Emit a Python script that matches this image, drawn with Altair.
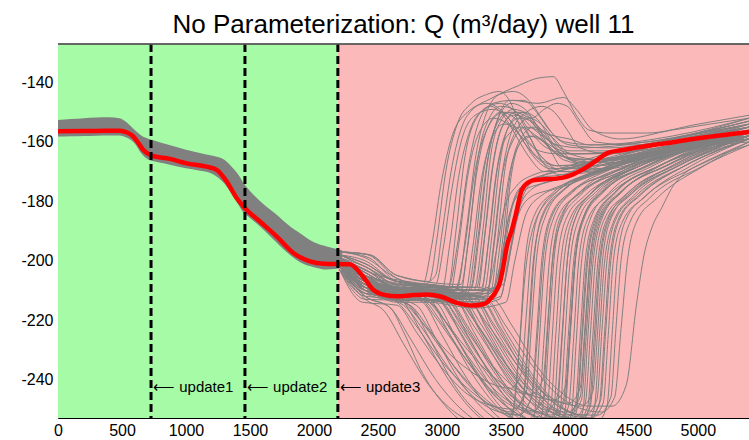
import altair as alt
import pandas as pd

TITLE = "No Parameterization: Q (m³/day) well 11"
X_TICKS = [0, 500, 1000, 1500, 2000, 2500, 3000, 3500, 4000, 4500, 5000]
Y_TICKS = [-240, -220, -200, -180, -160, -140]
X_DOMAIN = [0, 5400]
Y_DOMAIN = [-253, -127]

REGION_START = [0, 2187]
REGION_END = [2187, 5400]
REGION_COLOR = ["#a6fba6", "#fcb9b9"]

UPDATE_X = [727, 1461, 2187]
UPDATE_LABEL = ["⟵ update1", "⟵ update2", "⟵ update3"]
UPDATE_LABEL_Y = [-242.7, -242.7, -242.7]

# ensemble envelope before the members diverge
BAND_X = [0, 100, 200, 300, 400, 480, 540, 600, 650, 700, 750, 850, 1000, 1100, 1200,
          1300, 1350, 1400, 1450, 1500, 1600, 1700, 1800, 1900, 2000, 2100, 2220]
BAND_TOP = [-152.6, -152.3, -152.0, -151.8, -151.7, -152.0, -153.5, -156.0, -157.8, -158.8,
            -159.5, -160.8, -162.6, -163.6, -164.6, -166.0, -168.0, -170.5, -173.8, -176.5,
            -180.7, -184.2, -188.0, -191.0, -193.8, -195.2, -196.5]
BAND_BOTTOM = [-158.2, -158.1, -158.0, -157.9, -157.8, -157.8, -158.6, -160.5, -163.8, -165.8,
               -166.5, -167.4, -168.9, -169.6, -170.6, -174.0, -177.0, -180.5, -183.8, -185.6,
               -189.3, -193.5, -197.6, -200.7, -202.2, -203.0, -202.5]

# red (mean) curve
MEAN_X = [0, 300, 480, 540, 590, 630, 667, 732, 875, 1005, 1160, 1240, 1318, 1396, 1461,
          1578, 1708, 1839, 1969, 2080, 2280, 2383, 2461, 2550, 2648, 2780, 2883, 2984, 3117,
          3242, 3330, 3375, 3420, 3453, 3480, 3508, 3547, 3580, 3625, 3680, 3727, 3800, 3937,
          4020, 4094, 4200, 4297, 4400, 4508, 4650, 4820, 4950, 5078, 5250, 5400]
MEAN_Y = [-156.4, -156.3, -156.2, -156.8, -158.2, -160.5, -162.7, -164.6, -165.7, -167.2,
          -168.3, -169.4, -173.3, -178.9, -182.3, -186.8, -191.8, -197.4, -200.2, -201.0,
          -201.2, -205.3, -209.7, -211.5, -212.0, -211.6, -211.4, -212.0, -214.2, -215.1,
          -214.6, -213.1, -210.5, -207.4, -202.0, -195.2, -189.6, -184.0, -176.1, -173.5,
          -172.8, -172.6, -172.1, -171.0, -169.4, -166.5, -163.7, -162.8, -162.0, -161.0,
          -160.0, -159.1, -158.3, -157.4, -156.6]

# gray ensemble members after they spread out, [x, y] pairs
HUMP_LINES = [
    [[2200, -197], [2420, -198], [2650, -206], [2850, -208], [2950, -205], [3000, -191], [3080, -168], [3200, -151], [3400, -145], [3600, -141], [3750, -138.5], [3870, -138], [3950, -143], [4050, -151], [4150, -156], [4300, -157], [4600, -157], [5000, -154], [5400, -151]],
    [[2200, -198], [2400, -202], [2650, -208], [3050, -209], [3120, -195], [3200, -170], [3300, -152], [3400, -147], [3550, -146], [3750, -147], [3950, -145], [4050, -149], [4180, -156], [4400, -159], [4800, -156], [5400, -152]],
    [[2200, -199], [2400, -204], [2650, -209], [3100, -210], [3180, -195], [3250, -172], [3350, -156], [3480, -150], [3600, -151], [3700, -155], [3850, -160], [4000, -163], [4300, -163], [4800, -159], [5400, -154]],
    [[2200, -200], [2400, -206], [2650, -210], [3200, -211], [3260, -195], [3320, -172], [3400, -157], [3520, -150], [3620, -150], [3720, -154], [3800, -160], [3950, -165], [4200, -166], [4700, -161], [5400, -155]],
    [[2200, -197], [2430, -199], [2650, -207], [3250, -210], [3320, -190], [3380, -165], [3460, -153], [3560, -149], [3680, -151], [3780, -157], [3900, -161], [4100, -162], [4600, -160], [5400, -153]],
    [[2200, -201], [2400, -207], [2650, -211], [3300, -212], [3360, -195], [3420, -172], [3500, -157], [3600, -152], [3700, -153], [3800, -157], [3900, -163], [4050, -166], [4400, -165], [5000, -160], [5400, -157]],
    [[2200, -199], [2400, -203], [2650, -209], [3330, -210], [3390, -192], [3450, -168], [3530, -154], [3640, -150], [3760, -153], [3860, -160], [4000, -166], [4300, -167], [4900, -162], [5400, -158]],
    [[2200, -198], [2400, -200], [2650, -207], [3230, -209], [3290, -192], [3360, -166], [3440, -152], [3540, -147], [3650, -149], [3750, -155], [3850, -163], [3950, -169], [4200, -169], [4700, -164], [5400, -157]],
    [[2200, -201], [2400, -208], [2650, -212], [3380, -211], [3430, -195], [3490, -170], [3570, -157], [3680, -152], [3800, -155], [3920, -162], [4060, -167], [4400, -166], [5000, -160], [5400, -156]],
    [[2200, -197], [2440, -198], [2650, -205], [3150, -208], [3210, -192], [3280, -166], [3370, -152], [3460, -148], [3560, -149], [3660, -156], [3760, -164], [3900, -168], [4200, -168], [4800, -162], [5400, -155]],
    [[2200, -200], [2400, -206], [2650, -211], [3420, -212], [3470, -195], [3520, -175], [3600, -160], [3720, -155], [3850, -158], [4000, -164], [4250, -166], [4800, -162], [5400, -157]],
    [[2200, -198], [2400, -201], [2650, -207], [3050, -209], [3110, -190], [3180, -165], [3270, -152], [3380, -148], [3480, -151], [3580, -158], [3680, -165], [3800, -170], [4100, -170], [4700, -164], [5400, -156]],
    [[2200, -202], [2400, -209], [2650, -213], [3350, -213], [3400, -196], [3460, -174], [3540, -161], [3660, -155], [3780, -157], [3900, -163], [4100, -167], [4500, -165], [5400, -157]],
    [[2200, -199], [2400, -204], [2650, -209], [3280, -210], [3340, -190], [3400, -168], [3480, -154], [3580, -150], [3700, -152], [3800, -149], [3900, -147], [3980, -148], [4080, -154], [4200, -160], [4500, -161], [5000, -157], [5400, -153]],
    [[2200, -200], [2400, -205], [2650, -210], [3440, -210], [3490, -193], [3540, -172], [3620, -160], [3720, -158], [3820, -161], [3950, -165], [4200, -166], [4800, -161], [5400, -155]],
    [[2200, -197], [2400, -199], [2650, -206], [2850, -208], [2920, -195], [2990, -175], [3080, -158], [3200, -150], [3350, -147], [3480, -150], [3600, -157], [3700, -164], [3850, -169], [4100, -168], [4600, -162], [5400, -154]],
    [[2200, -198], [2400, -201], [2650, -207], [2950, -208], [3010, -196], [3070, -178], [3150, -160], [3260, -151], [3400, -149], [3520, -152], [3640, -160], [3760, -166], [3900, -169], [4200, -168], [4800, -162], [5400, -155]],
    [[2200, -200], [2400, -205], [2650, -210], [3000, -210], [3060, -195], [3130, -172], [3220, -156], [3330, -149], [3450, -147], [3580, -150], [3700, -157], [3820, -162], [4000, -164], [4400, -163], [5000, -158], [5400, -154]],
    [[2200, -199], [2400, -203], [2650, -208], [3120, -209], [3190, -190], [3260, -166], [3350, -150], [3450, -144], [3560, -143], [3680, -146], [3780, -152], [3880, -158], [4000, -161], [4300, -162], [4900, -158], [5400, -153]],
    [[2200, -201], [2400, -207], [2650, -211], [3180, -211], [3240, -196], [3300, -175], [3380, -160], [3480, -154], [3580, -155], [3680, -160], [3800, -166], [3950, -170], [4250, -169], [4800, -163], [5400, -157]],
    [[2200, -198], [2400, -202], [2650, -207], [3270, -209], [3330, -193], [3390, -170], [3460, -156], [3560, -151], [3660, -152], [3760, -156], [3880, -158], [4000, -159], [4150, -161], [4600, -160], [5400, -152]],
    [[2200, -200], [2400, -205], [2650, -210], [3350, -211], [3410, -194], [3470, -171], [3550, -156], [3660, -150], [3780, -148], [3880, -150], [3980, -156], [4080, -162], [4300, -164], [4900, -160], [5400, -155]],
    [[2200, -199], [2400, -204], [2650, -209], [3400, -210], [3450, -196], [3500, -178], [3570, -164], [3680, -158], [3800, -160], [3950, -166], [4200, -168], [4700, -163], [5400, -157]],
    [[2200, -197], [2430, -198], [2650, -205], [2900, -207], [2960, -193], [3030, -170], [3120, -154], [3230, -147], [3350, -144], [3450, -143], [3540, -147], [3620, -156], [3720, -164], [3900, -168], [4300, -166], [5400, -154]],
    [[2200, -201], [2400, -206], [2650, -211], [3060, -211], [3130, -195], [3200, -172], [3290, -157], [3400, -152], [3520, -154], [3640, -159], [3760, -163], [3900, -164], [4200, -164], [4800, -160], [5400, -155]],
    [[2200, -200], [2400, -205], [2650, -210], [3220, -210], [3280, -193], [3350, -168], [3430, -153], [3530, -146], [3640, -146], [3740, -150], [3840, -156], [3960, -160], [4200, -161], [4800, -158], [5400, -152]],
    [[2200, -198], [2400, -201], [2650, -207], [3310, -209], [3370, -192], [3430, -170], [3510, -158], [3620, -155], [3740, -158], [3880, -162], [4050, -164], [4500, -163], [5400, -156]],
    [[2200, -202], [2400, -208], [2650, -212], [3140, -212], [3200, -196], [3270, -171], [3360, -155], [3460, -150], [3570, -152], [3680, -158], [3790, -167], [3920, -171], [4200, -170], [4800, -164], [5400, -158]],
]

MEANLIKE_LINES = [
    [[2200, -201], [2400, -205], [2650, -211], [2900, -211], [3200, -213], [3380, -211], [3450, -203], [3520, -186], [3600, -176], [3750, -172], [3950, -171], [4200, -166], [4500, -162], [5000, -159], [5400, -156]],
    [[2200, -200], [2400, -203], [2650, -209], [2900, -209], [3200, -211], [3420, -209], [3480, -198], [3550, -182], [3650, -174], [3800, -171], [4000, -169], [4250, -165], [4600, -161], [5400, -154]],
    [[2200, -202], [2400, -207], [2650, -212], [2900, -213], [3200, -215], [3450, -213], [3510, -203], [3580, -187], [3680, -179], [3850, -176], [4100, -172], [4400, -167], [4900, -162], [5400, -159]],
    [[2200, -199], [2400, -202], [2650, -208], [2900, -208], [3250, -210], [3480, -208], [3540, -196], [3620, -180], [3720, -173], [3900, -170], [4150, -167], [4500, -163], [5400, -155]],
    [[2200, -203], [2400, -209], [2650, -214], [2900, -214], [3250, -216], [3500, -214], [3570, -200], [3660, -184], [3780, -178], [3950, -175], [4200, -171], [4600, -165], [5400, -160]],
    [[2200, -201], [2400, -206], [2650, -210], [2900, -210], [3200, -212], [3400, -210], [3460, -200], [3530, -184], [3620, -177], [3780, -174], [3980, -172], [4250, -167], [4600, -163], [5400, -157]],
    [[2200, -202], [2400, -208], [2650, -213], [2900, -213], [3250, -214], [3460, -212], [3520, -199], [3600, -183], [3700, -176], [3870, -173], [4100, -170], [4450, -165], [5400, -157]],
    [[2200, -199], [2400, -204], [2650, -209], [2900, -209], [3200, -210], [3360, -209], [3420, -198], [3490, -182], [3580, -175], [3720, -171], [3920, -169], [4200, -165], [4600, -161], [5400, -155]],
]

DIP_LINES = [
    [[2200, -202], [2400, -210], [2650, -214], [2800, -222], [3000, -234], [3200, -243], [3400, -249], [3550, -251], [3640, -245], [3680, -225], [3720, -200], [3790, -184], [3950, -176], [4300, -169], [4900, -162], [5400, -158]],
    [[2200, -200], [2400, -207], [2700, -213], [2850, -221], [3050, -233], [3250, -243], [3450, -250], [3600, -252], [3700, -246], [3740, -225], [3780, -200], [3850, -185], [4000, -177], [4300, -171], [4900, -163], [5400, -159]],
    [[2200, -203], [2400, -211], [2750, -215], [2900, -223], [3100, -236], [3300, -246], [3500, -252], [3650, -254], [3760, -248], [3800, -225], [3840, -200], [3910, -185], [4050, -178], [4400, -170], [5000, -162], [5400, -159]],
    [[2200, -199], [2420, -206], [2800, -211], [2950, -219], [3150, -231], [3350, -242], [3550, -249], [3700, -251], [3800, -246], [3840, -222], [3880, -198], [3950, -184], [4100, -176], [4450, -168], [5000, -161], [5400, -157]],
    [[2200, -201], [2400, -208], [2850, -213], [3000, -221], [3200, -234], [3400, -245], [3600, -252], [3750, -255], [3850, -249], [3890, -225], [3930, -200], [4000, -186], [4150, -178], [4500, -169], [5400, -159]],
    [[2200, -202], [2400, -210], [2900, -214], [3050, -222], [3250, -236], [3450, -247], [3650, -253], [3800, -256], [3900, -250], [3940, -226], [3980, -200], [4050, -185], [4200, -176], [4550, -168], [5400, -158]],
    [[2200, -200], [2400, -206], [2950, -212], [3100, -220], [3300, -233], [3500, -244], [3700, -250], [3850, -252], [3950, -247], [3990, -224], [4030, -200], [4100, -186], [4250, -177], [4600, -168], [5400, -157]],
    [[2200, -201], [2400, -209], [3000, -213], [3150, -222], [3350, -236], [3550, -247], [3750, -253], [3900, -255], [3990, -249], [4030, -226], [4070, -200], [4140, -186], [4300, -178], [4650, -169], [5400, -159]],
    [[2200, -203], [2400, -212], [3050, -214], [3200, -223], [3400, -237], [3600, -248], [3800, -254], [3950, -256], [4040, -250], [4080, -226], [4120, -200], [4190, -186], [4350, -177], [4700, -168], [5400, -158]],
    [[2200, -199], [2440, -204], [3100, -211], [3250, -220], [3450, -233], [3650, -244], [3850, -250], [3980, -251], [4080, -246], [4120, -224], [4160, -200], [4230, -186], [4400, -177], [4750, -167], [5400, -156]],
    [[2200, -200], [2400, -207], [3150, -212], [3300, -221], [3500, -235], [3700, -246], [3900, -252], [4030, -253], [4120, -248], [4160, -225], [4200, -200], [4270, -186], [4430, -178], [4800, -168], [5400, -158]],
    [[2200, -202], [2400, -209], [3200, -213], [3350, -222], [3550, -236], [3750, -247], [3950, -253], [4070, -254], [4160, -249], [4200, -226], [4240, -200], [4310, -186], [4470, -178], [4850, -168], [5400, -159]],
    [[2200, -201], [2400, -208], [3250, -212], [3400, -221], [3600, -234], [3800, -245], [4000, -251], [4120, -252], [4210, -247], [4250, -224], [4290, -200], [4360, -186], [4520, -178], [4900, -168], [5400, -159]],
    [[2200, -200], [2400, -205], [3300, -212], [3450, -222], [3650, -236], [3850, -247], [4050, -252], [4170, -253], [4260, -248], [4300, -225], [4340, -200], [4410, -187], [4570, -179], [4950, -169], [5400, -160]],
    [[2200, -203], [2400, -213], [3350, -214], [3500, -224], [3700, -238], [3900, -248], [4100, -252], [4220, -252], [4320, -246], [4360, -223], [4400, -200], [4470, -187], [4620, -179], [5000, -169], [5400, -161]],
    [[2200, -201], [2400, -208], [3400, -213], [3550, -222], [3750, -236], [3950, -245], [4150, -249], [4330, -249], [4440, -242], [4520, -215], [4580, -198], [4640, -189], [4720, -182], [4820, -174], [5100, -166], [5400, -161]],
    [[2200, -202], [2400, -212], [2600, -216], [2750, -226], [2950, -240], [3150, -250], [3350, -256], [3500, -258], [3620, -252], [3670, -228], [3710, -202], [3780, -186], [3930, -177], [4250, -170], [4900, -162], [5400, -158]],
    [[2200, -199], [2420, -207], [2700, -214], [2850, -225], [3050, -240], [3250, -251], [3450, -257], [3620, -259], [3720, -253], [3760, -228], [3800, -202], [3870, -186], [4020, -177], [4350, -170], [5400, -158]],
    [[2200, -201], [2400, -210], [2800, -215], [2950, -226], [3150, -241], [3350, -251], [3550, -256], [3720, -257], [3820, -251], [3860, -227], [3900, -201], [3970, -186], [4120, -178], [4450, -170], [5400, -159]],
    [[2200, -200], [2400, -206], [2900, -213], [3050, -224], [3250, -239], [3450, -250], [3650, -256], [3820, -258], [3920, -252], [3960, -227], [4000, -201], [4070, -186], [4220, -177], [4550, -169], [5400, -158]],
    [[2200, -202], [2400, -211], [3000, -214], [3150, -225], [3350, -240], [3550, -251], [3750, -257], [3910, -258], [4010, -252], [4050, -227], [4090, -201], [4160, -186], [4310, -177], [4650, -168], [5400, -157]],
    [[2200, -201], [2400, -209], [3100, -213], [3250, -224], [3450, -239], [3650, -250], [3850, -256], [4000, -257], [4100, -251], [4140, -226], [4180, -201], [4250, -186], [4400, -177], [4750, -168], [5400, -157]],
    [[2200, -200], [2400, -207], [3200, -212], [3350, -223], [3550, -238], [3750, -249], [3950, -255], [4100, -256], [4190, -250], [4230, -226], [4270, -201], [4340, -187], [4500, -178], [4850, -168], [5400, -158]],
    [[2200, -203], [2380, -214], [2650, -215], [2800, -224], [3000, -236], [3200, -245], [3400, -249], [3560, -250], [3660, -244], [3700, -222], [3740, -199], [3810, -185], [3960, -176], [4300, -169], [5400, -158]],
    [[2200, -199], [2400, -205], [2950, -212], [3100, -221], [3300, -235], [3500, -246], [3700, -252], [3860, -253], [3960, -247], [4000, -224], [4040, -200], [4110, -185], [4260, -176], [4600, -167], [5400, -156]],
    [[2200, -201], [2400, -209], [3050, -213], [3200, -222], [3400, -236], [3600, -247], [3800, -252], [3960, -253], [4060, -247], [4100, -224], [4140, -200], [4210, -186], [4360, -177], [4700, -168], [5400, -157]],
    [[2200, -202], [2400, -210], [3150, -213], [3300, -223], [3500, -237], [3700, -248], [3900, -254], [4050, -255], [4140, -249], [4180, -225], [4220, -200], [4290, -186], [4450, -178], [4800, -168], [5400, -158]],
    [[2200, -200], [2400, -207], [3250, -212], [3400, -222], [3600, -236], [3800, -247], [4000, -252], [4150, -253], [4240, -247], [4280, -224], [4320, -200], [4390, -186], [4550, -178], [4900, -168], [5400, -159]],
    [[2200, -201], [2400, -209], [2700, -214], [2850, -221], [3050, -231], [3250, -238], [3420, -242], [3540, -243], [3620, -238], [3660, -218], [3700, -196], [3770, -183], [3920, -176], [4250, -169], [5400, -158]],
    [[2200, -200], [2400, -206], [2850, -212], [3000, -219], [3200, -230], [3400, -239], [3580, -244], [3700, -245], [3790, -240], [3830, -219], [3870, -197], [3940, -184], [4090, -177], [4400, -169], [5400, -158]],
    [[2200, -202], [2400, -210], [3000, -213], [3150, -221], [3350, -233], [3550, -242], [3750, -246], [3880, -247], [3970, -242], [4010, -220], [4050, -197], [4120, -184], [4280, -176], [4620, -168], [5400, -157]],
    [[2200, -199], [2400, -205], [3100, -212], [3250, -220], [3450, -232], [3650, -242], [3850, -247], [3990, -248], [4080, -243], [4120, -221], [4160, -198], [4230, -185], [4390, -177], [4750, -168], [5400, -157]],
    [[2200, -201], [2400, -208], [3200, -213], [3350, -221], [3550, -233], [3750, -243], [3950, -248], [4090, -249], [4180, -244], [4220, -222], [4260, -198], [4330, -185], [4490, -177], [4850, -168], [5400, -158]],
    [[2200, -203], [2400, -212], [2600, -216], [2700, -224], [2850, -238], [3050, -250], [3250, -257], [3420, -259], [3540, -254], [3600, -232], [3650, -205], [3720, -188], [3870, -178], [4200, -170], [5400, -158]],
    [[2200, -202], [2400, -210], [2750, -215], [2900, -226], [3100, -242], [3300, -252], [3500, -257], [3680, -258], [3780, -252], [3820, -228], [3860, -202], [3930, -187], [4080, -178], [4400, -170], [5400, -159]],
    [[2200, -200], [2400, -207], [2850, -214], [3000, -225], [3200, -240], [3400, -251], [3600, -257], [3770, -258], [3870, -252], [3910, -228], [3950, -202], [4020, -186], [4170, -177], [4500, -169], [5400, -158]],
    [[2200, -201], [2400, -209], [2950, -214], [3100, -225], [3300, -240], [3500, -251], [3700, -256], [3860, -257], [3960, -251], [4000, -227], [4040, -201], [4110, -186], [4260, -177], [4600, -168], [5400, -157]],
    [[2200, -202], [2400, -211], [3050, -214], [3200, -225], [3400, -240], [3600, -251], [3800, -256], [3950, -257], [4050, -251], [4090, -227], [4130, -201], [4200, -186], [4350, -177], [4700, -168], [5400, -158]],
    [[2200, -200], [2400, -207], [3150, -213], [3300, -224], [3500, -239], [3700, -250], [3900, -255], [4050, -256], [4150, -250], [4190, -226], [4230, -201], [4300, -186], [4460, -177], [4820, -168], [5400, -158]],
    [[2200, -201], [2400, -209], [3300, -213], [3450, -223], [3650, -238], [3850, -249], [4050, -254], [4200, -255], [4290, -249], [4330, -225], [4370, -200], [4440, -186], [4600, -178], [4950, -168], [5400, -159]],
    [[2200, -202], [2400, -210], [2700, -215], [2850, -223], [3050, -236], [3250, -246], [3450, -251], [3600, -252], [3700, -246], [3750, -224], [3790, -200], [3860, -185], [4010, -177], [4330, -169], [5400, -157]],
    [[2200, -199], [2400, -206], [2900, -213], [3050, -222], [3250, -235], [3450, -245], [3650, -250], [3800, -251], [3900, -246], [3940, -224], [3980, -200], [4050, -185], [4200, -177], [4520, -168], [5400, -157]],
    [[2200, -201], [2400, -208], [3100, -213], [3250, -222], [3450, -235], [3650, -246], [3850, -251], [3990, -252], [4090, -247], [4130, -224], [4170, -200], [4240, -186], [4400, -177], [4760, -168], [5400, -158]],
    [[2200, -200], [2400, -207], [3350, -213], [3500, -222], [3700, -235], [3900, -245], [4100, -250], [4250, -251], [4350, -246], [4400, -223], [4450, -200], [4520, -187], [4680, -179], [5050, -168], [5400, -160]],
    [[2200, -203], [2400, -213], [2550, -217], [2700, -228], [2900, -242], [3100, -251], [3300, -255], [3450, -256], [3560, -250], [3610, -226], [3650, -200], [3720, -185], [3870, -177], [4200, -170], [5400, -158]],
    [[2200, -201], [2400, -209], [3250, -213], [3400, -224], [3600, -238], [3800, -248], [4000, -253], [4140, -254], [4230, -248], [4270, -225], [4310, -200], [4380, -186], [4540, -178], [4900, -168], [5400, -159]],
]

W, H = 691, 374
FONT = "Liberation Sans"

regions = pd.DataFrame({"start": REGION_START, "end": REGION_END, "color": REGION_COLOR})
band = pd.DataFrame({"x": BAND_X, "top": BAND_TOP, "bottom": BAND_BOTTOM})
mean = pd.DataFrame({"x": MEAN_X, "y": MEAN_Y})
rows = []
for i, line in enumerate(HUMP_LINES + MEANLIKE_LINES + DIP_LINES):
    for k, (xv, yv) in enumerate(line):
        rows.append({"id": i, "order": k, "x": xv, "y": yv})
gray = pd.DataFrame(rows)
updates = pd.DataFrame({"x": UPDATE_X, "label": UPDATE_LABEL, "ly": UPDATE_LABEL_Y})

xs = alt.Scale(domain=X_DOMAIN, nice=False, zero=False)
ys = alt.Scale(domain=Y_DOMAIN, nice=False, zero=False)
XAX = alt.Axis(values=X_TICKS, title=None, grid=False, ticks=False, labelPadding=4,
               domainColor="black", labelFont=FONT, labelFontSize=16, labelColor="black",
               labelFlush=False, labelOverlap=False, labelExpr="'' + datum.value")
YAX = alt.Axis(values=Y_TICKS, title=None, grid=False, ticks=False, labelPadding=5,
               domainColor="black", labelFont=FONT, labelFontSize=16, labelColor="black",
               labelOverlap=False, labelExpr="'' + datum.value")

bg = alt.Chart(regions).mark_rect().encode(
    x=alt.X("start:Q", scale=xs, axis=XAX), x2="end:Q",
    y=alt.value(0), y2=alt.value(H),
    color=alt.Color("color:N", scale=None),
)
band_layer = alt.Chart(band).mark_area(color="#808080", interpolate="monotone").encode(
    x=alt.X("x:Q", scale=xs, axis=XAX),
    y=alt.Y("top:Q", scale=ys, axis=YAX), y2="bottom:Q",
)
gray_layer = alt.Chart(gray).mark_line(color="#808080", strokeWidth=1, interpolate="monotone", clip=True).encode(
    x=alt.X("x:Q", scale=xs, axis=XAX),
    y=alt.Y("y:Q", scale=ys, axis=YAX),
    detail="id:N", order="order:Q",
)
mean_layer = alt.Chart(mean).mark_line(color="#ff0000", strokeWidth=4.5, interpolate="monotone").encode(
    x=alt.X("x:Q", scale=xs, axis=XAX),
    y=alt.Y("y:Q", scale=ys, axis=YAX),
)
rules = alt.Chart(updates).mark_rule(color="black", strokeWidth=3, strokeDash=[8, 4]).encode(
    x=alt.X("x:Q", scale=xs, axis=XAX),
)
labels = alt.Chart(updates).mark_text(align="left", baseline="middle", dx=2, font=FONT,
                                      fontSize=15, color="black").encode(
    x=alt.X("x:Q", scale=xs, axis=XAX),
    y=alt.Y("ly:Q", scale=ys, axis=YAX),
    text="label:N",
)
top_border = alt.Chart(updates).mark_rule(color="#555555", strokeWidth=1).encode(
    x=alt.value(0), x2=alt.value(W), y=alt.value(0),
)

chart = alt.layer(bg, band_layer, gray_layer, mean_layer, rules, labels, top_border).properties(
    width=W, height=H,
    title=alt.Title(TITLE, font=FONT, fontSize=26, fontWeight="normal", color="black",
                    anchor="middle", offset=5),
    padding={"left": 58, "top": 44, "right": 0, "bottom": 22},
    autosize=alt.AutoSizeParams(type="none"),
).configure_view(stroke=None).configure(background="white")

chart.save("out.html", embed_options={"renderer": "svg", "actions": False})
